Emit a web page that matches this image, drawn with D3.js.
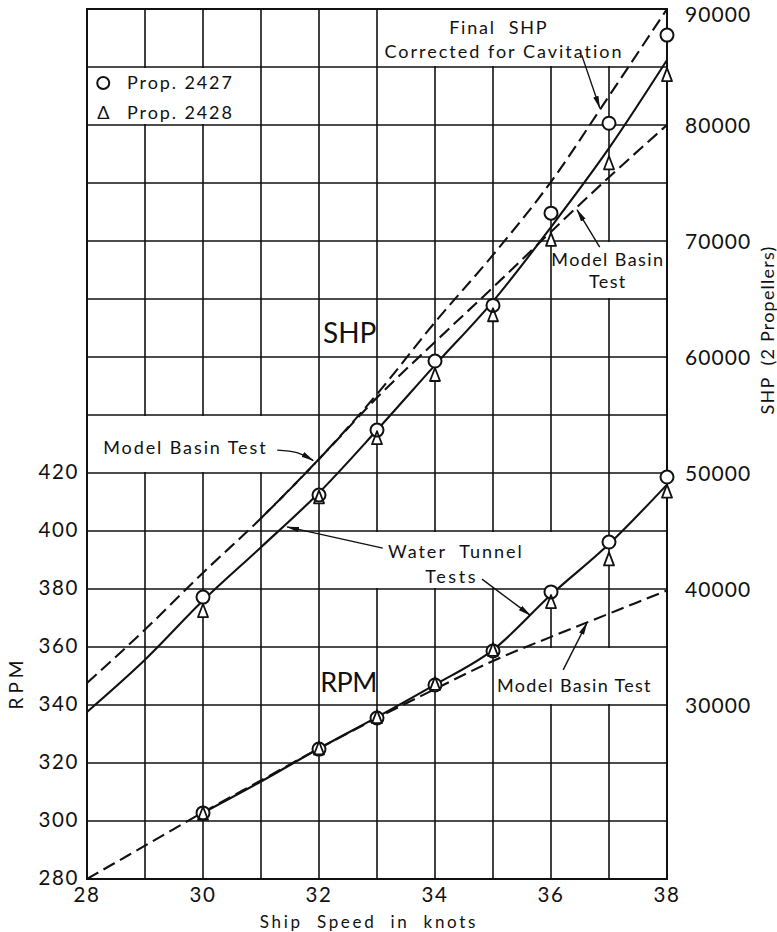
<!DOCTYPE html>
<html>
<head>
<meta charset="utf-8">
<script src="https://cdn.jsdelivr.net/npm/d3@7"></script>
<style>
  body { margin: 0; background: #fff; }
  text { font-family: Lato, "Open Sans", sans-serif; fill: #111; }
</style>
</head>
<body>
<div id="chart"></div>
<script>
// measured points (both propellers)
var testSpeeds = [30, 32, 33, 34, 35, 36, 37, 38];
var shp2427 = [39300, 48100, 53700, 59650, 64450, 72400, 80150, 87750];
var shp2428 = [38100, 47900, 53000, 58450, 63600, 70100, 76700, 84300];
var rpm2427 = [302.8, 324.8, 335.5, 346.9, 358.6, 379.0, 396.2, 418.6];
var rpm2428 = [302.5, 325.0, 335.8, 347.3, 359.0, 375.5, 390.2, 413.6];

// faired curves
var fullSpeeds = [28, 29, 30, 31, 32, 33, 34, 35, 36, 37, 38];
var shpTunnel = [29400, 33900, 39000, 43600, 48300, 53700, 59300, 64800, 71200, 78000, 85600];
var shpBasin = [31900, 36500, 41400, 46100, 51200, 56500, 61300, 66000, 70800, 75500, 80000];
var rpmBasin = [280, 291.5, 303, 314, 325, 335.5, 345.5, 355.2, 363.5, 371.5, 379.5];

var finalSpeeds = [31, 32, 33, 34, 35, 36, 37, 38];
var shpFinal = [46100, 51200, 56800, 63000, 68800, 75100, 82500, 90000];

var rpmTunnelSpeeds = [30, 31, 32, 33, 34, 35, 36, 37, 38];
var rpmTunnel = [302.8, 313.6, 325, 335.8, 347, 359, 378, 395.5, 416];

// axis ticks
var speedGrid = [28, 29, 30, 31, 32, 33, 34, 35, 36, 37, 38];
var speedLabels = [28, 30, 32, 34, 36, 38];
var rpmGrid = [280, 300, 320, 340, 360, 380, 400, 420, 440, 460, 480, 500, 520, 540, 560, 580];
var rpmLabels = [280, 300, 320, 340, 360, 380, 400, 420];
var shpLabels = [30000, 40000, 50000, 60000, 70000, 80000, 90000];

var svgWidth = 777;
var svgHeight = 932;
var margin = { top: 9, left: 87 };
var width = 580;
var height = 870;

var svg = d3.select("#chart")
  .append("svg")
  .attr("width", svgWidth)
  .attr("height", svgHeight);

var chartGroup = svg.append("g")
  .attr("transform", `translate(${margin.left}, ${margin.top})`);

var xScale = d3.scaleLinear().domain([28, 38]).range([0, width]);
var yRpm = d3.scaleLinear().domain([280, 580]).range([height, 0]);
var yShp = d3.scaleLinear().domain([15000, 90000]).range([height, 0]);

// arrow head
svg.append("defs").append("marker")
  .attr("id", "arrow")
  .attr("markerUnits", "userSpaceOnUse")
  .attr("markerWidth", 13)
  .attr("markerHeight", 7)
  .attr("refX", 12)
  .attr("refY", 3.5)
  .attr("orient", "auto")
  .append("path")
  .attr("d", "M0,0.8 L13,3.5 L0,6.2 Z")
  .attr("fill", "#111");

// grid
chartGroup.selectAll(".vgrid")
  .data(speedGrid)
  .enter()
  .append("line")
  .attr("x1", d => xScale(d))
  .attr("x2", d => xScale(d))
  .attr("y1", 0)
  .attr("y2", height)
  .attr("stroke", "#111")
  .attr("stroke-width", 1.6);

chartGroup.selectAll(".hgrid")
  .data(rpmGrid)
  .enter()
  .append("line")
  .attr("x1", 0)
  .attr("x2", width)
  .attr("y1", d => yRpm(d))
  .attr("y2", d => yRpm(d))
  .attr("stroke", "#111")
  .attr("stroke-width", 1.6);

// blank cells for the labels
var boxes = [
  { x0: 28, x1: 31, r0: 540, r1: 560 },
  { x0: 33, x1: 38, r0: 560, r1: 580 },
  { x0: 36, x1: 38, r0: 480, r1: 500 },
  { x0: 28, x1: 32, r0: 420, r1: 440 },
  { x0: 32, x1: 37, r0: 380, r1: 400 },
  { x0: 35, x1: 38, r0: 340, r1: 360 }
];
chartGroup.selectAll(".box")
  .data(boxes)
  .enter()
  .append("rect")
  .attr("x", d => xScale(d.x0) + 1)
  .attr("y", d => yRpm(d.r1) + 1)
  .attr("width", d => xScale(d.x1) - xScale(d.x0) - 2)
  .attr("height", d => yRpm(d.r0) - yRpm(d.r1) - 2)
  .attr("fill", "#fff");

// frame
chartGroup.append("rect")
  .attr("width", width)
  .attr("height", height)
  .attr("fill", "none")
  .attr("stroke", "#111")
  .attr("stroke-width", 2);

// curves
chartGroup.append("clipPath").attr("id", "plotclip")
  .append("rect").attr("x", -2).attr("y", -1).attr("width", width + 4).attr("height", height + 2);

var curves = [
  { xs: fullSpeeds, ys: shpTunnel, scale: yShp, dash: null },
  { xs: fullSpeeds, ys: shpBasin, scale: yShp, dash: "13,6" },
  { xs: finalSpeeds, ys: shpFinal, scale: yShp, dash: "13,6" },
  { xs: rpmTunnelSpeeds, ys: rpmTunnel, scale: yRpm, dash: null },
  { xs: fullSpeeds, ys: rpmBasin, scale: yRpm, dash: "13,6" }
];

var curveGroup = chartGroup.append("g").attr("clip-path", "url(#plotclip)");
curves.forEach(function(c) {
  var line = d3.line()
    .x(d => xScale(d[0]))
    .y(d => c.scale(d[1]))
    .curve(d3.curveMonotoneX);
  curveGroup.append("path")
    .datum(c.xs.map((s, i) => [s, c.ys[i]]))
    .attr("d", line)
    .attr("fill", "none")
    .attr("stroke", "#111")
    .attr("stroke-width", 2.1)
    .attr("stroke-dasharray", c.dash);
});

// markers
function triPath(cx, cy) {
  return `M${cx},${cy - 7} L${cx + 5},${cy + 6} L${cx - 5},${cy + 6} Z`;
}
var markerSets = [
  { c: shp2427, t: shp2428, scale: yShp },
  { c: rpm2427, t: rpm2428, scale: yRpm }
];
markerSets.forEach(function(m) {
  chartGroup.selectAll(null)
    .data(testSpeeds)
    .enter()
    .append("circle")
    .attr("cx", d => xScale(d))
    .attr("cy", (d, i) => m.scale(m.c[i]))
    .attr("r", 6.5)
    .attr("fill", "#fff");
  chartGroup.selectAll(null)
    .data(testSpeeds)
    .enter()
    .append("path")
    .attr("d", (d, i) => triPath(xScale(d), m.scale(m.t[i])))
    .attr("fill", "#fff")
    .attr("stroke", "#111")
    .attr("stroke-width", 1.8)
    .attr("stroke-linejoin", "round");
  chartGroup.selectAll(null)
    .data(testSpeeds)
    .enter()
    .append("circle")
    .attr("cx", d => xScale(d))
    .attr("cy", (d, i) => m.scale(m.c[i]))
    .attr("r", 6.5)
    .attr("fill", "none")
    .attr("stroke", "#111")
    .attr("stroke-width", 2);
});

// leaders (speed, rpm-grid units)
var leaders = [
  [[36.53, 564.1], [36.84, 545.9]],
  [[36.84, 497.9], [36.45, 510.7]],
  [[31.28, 427.9], [31.62, 427.0], [31.9, 424.3]],
  [[33.10, 394.1], [31.45, 401.4]],
  [[34.81, 383.4], [35.64, 371.0]],
  [[36.21, 352.1], [36.62, 368.3]]
];
var leaderLine = d3.line()
  .x(d => xScale(d[0]))
  .y(d => yRpm(d[1]))
  .curve(d3.curveNatural);
chartGroup.selectAll(".leader")
  .data(leaders)
  .enter()
  .append("path")
  .attr("d", leaderLine)
  .attr("fill", "none")
  .attr("stroke", "#111")
  .attr("stroke-width", 1.4)
  .attr("marker-end", "url(#arrow)");

// labels inside the plot
var notes = [
  { s: 28.69, r: 554.5, text: "Prop. 2427", anchor: "start", size: 18, ls: 1.9 },
  { s: 28.69, r: 544.1, text: "Prop. 2428", anchor: "start", size: 18, ls: 1.9 },
  { s: 35.10, r: 573.4, text: "Final  SHP", anchor: "middle", size: 18, ls: 1.8 },
  { s: 35.19, r: 565.2, text: "Corrected for Cavitation", anchor: "middle", size: 18, ls: 2.0 },
  { s: 36.98, r: 493.4, text: "Model Basin", anchor: "middle", size: 18, ls: 1.4 },
  { s: 36.98, r: 485.9, text: "Test", anchor: "middle", size: 18, ls: 1.4 },
  { s: 28.28, r: 428.6, text: "Model Basin Test", anchor: "start", size: 18, ls: 1.9 },
  { s: 33.19, r: 392.8, text: "Water  Tunnel", anchor: "start", size: 18, ls: 2.0 },
  { s: 33.83, r: 384.1, text: "Tests", anchor: "start", size: 18, ls: 2.6 },
  { s: 35.07, r: 346.6, text: "Model Basin Test", anchor: "start", size: 18, ls: 1.3 },
  { s: 32.07, r: 468.3, text: "SHP", anchor: "start", size: 28, ls: 0 },
  { s: 32.02, r: 347.9, text: "RPM", anchor: "start", size: 27, ls: -0.5 }
];

chartGroup.selectAll(".note")
  .data(notes)
  .enter()
  .append("text")
  .attr("x", d => xScale(d.s))
  .attr("y", d => yRpm(d.r))
  .attr("dy", "0.35em")
  .attr("text-anchor", d => d.anchor)
  .style("font-size", d => d.size + "px")
  .style("letter-spacing", d => d.ls + "px")
  .style("white-space", "pre")
  .text(d => d.text);

// legend symbols
chartGroup.append("circle")
  .attr("cx", xScale(28.28))
  .attr("cy", yRpm(554.5))
  .attr("r", 6)
  .attr("fill", "none")
  .attr("stroke", "#111")
  .attr("stroke-width", 2);
chartGroup.append("text")
  .attr("x", xScale(28.28))
  .attr("y", yRpm(544.1))
  .attr("dy", "0.35em")
  .attr("text-anchor", "middle")
  .style("font-size", "18px")
  .text("\u0394");

// axis labels
chartGroup.selectAll(".rpmlab")
  .data(rpmLabels)
  .enter()
  .append("text")
  .attr("x", -8)
  .attr("y", d => yRpm(d) - 1)
  .attr("dy", "0.36em")
  .attr("text-anchor", "end")
  .style("font-size", "20.5px")
  .style("letter-spacing", "1.6px")
  .text(d => d);

chartGroup.selectAll(".shplab")
  .data(shpLabels)
  .enter()
  .append("text")
  .attr("x", width + 18)
  .attr("y", d => Math.max(yShp(d), 5))
  .attr("dy", "0.36em")
  .attr("text-anchor", "start")
  .style("font-size", "21px")
  .style("letter-spacing", "1.1px")
  .text(d => d);

chartGroup.selectAll(".spdlab")
  .data(speedLabels)
  .enter()
  .append("text")
  .attr("x", d => xScale(d))
  .attr("y", height + 16)
  .attr("dy", "0.36em")
  .attr("text-anchor", "middle")
  .style("font-size", "20.5px")
  .style("letter-spacing", "1.5px")
  .text(d => d);

svg.append("text")
  .attr("x", 369)
  .attr("y", 922)
  .attr("dy", "0.35em")
  .attr("text-anchor", "middle")
  .style("font-size", "17px")
  .style("letter-spacing", "2.7px")
  .style("white-space", "pre")
  .text("Ship  Speed  in  knots");

svg.append("text")
  .attr("transform", "translate(16, 683) rotate(-90)")
  .attr("dy", "0.35em")
  .attr("text-anchor", "middle")
  .style("font-size", "19px")
  .style("letter-spacing", "4px")
  .text("RPM");

svg.append("text")
  .attr("transform", "translate(768, 330) rotate(-90)")
  .attr("dy", "0.35em")
  .attr("text-anchor", "middle")
  .style("font-size", "18px")
  .style("letter-spacing", "1.2px")
  .style("white-space", "pre")
  .text("SHP  (2 Propellers)");
</script>
</body>
</html>
